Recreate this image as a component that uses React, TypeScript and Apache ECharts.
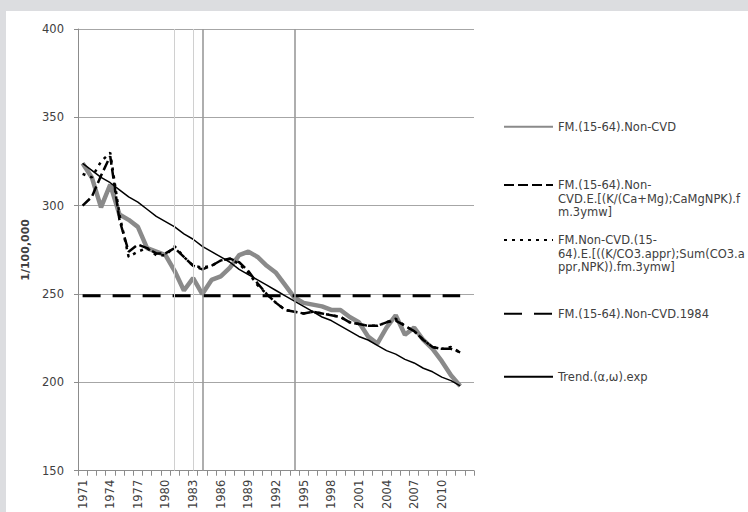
import React, { useEffect, useRef } from "react";
import * as echarts from "echarts";

const years = [
  "1971", "1972", "1973", "1974", "1975", "1976", "1977", "1978", "1979", "1980",
  "1981", "1982", "1983", "1984", "1985", "1986", "1987", "1988", "1989", "1990",
  "1991", "1992", "1993", "1994", "1995", "1996", "1997", "1998", "1999", "2000",
  "2001", "2002", "2003", "2004", "2005", "2006", "2007", "2008", "2009", "2010",
  "2011", "2012", "2013",
];

// FM.(15-64).Non-CVD
const fmNonCvd = [
  324, 316, 299, 312, 295, 292, 288, 276, 274, 272,
  263, 252, 259, 250, 258, 260, 265, 272, 274, 271,
  266, 262, 255, 248, 245, 244, 243, 241, 241, 237,
  234, 226, 222, 231, 238, 227, 231, 224, 219, 212,
  204, 198,
];

// FM.(15-64).Non-CVD.E.[(K/(Ca+Mg);CaMgNPK).fm.3ymw]
const fmCaMg = [
  300, 305, 317, 328, 292, 274, 278, 276, 273, 273,
  276, 271, 266, 264, 266, 269, 270, 268, 263, 256,
  250, 245, 241, 240, 239, 240, 239, 238, 237, 234,
  233, 232, 232, 234, 235, 232, 229, 224, 220, 219,
  219, 217,
];

// FM.Non-CVD.(15-64).E.[((K/CO3.appr);Sum(CO3.appr,NPK)).fm.3ymw]
const fmCo3 = [
  318, 316, 325, 330, 295, 271, 274, 276, 272, 272,
  277, 271, 266, 265, 266, 269, 270, 267, 262, 255,
  250, 245, 241, 240, 239, 240, 239, 238, 237, 234,
  233, 232, 232, 234, 236, 232, 229, 224, 220, 219,
  220, 217,
];

// FM.(15-64).Non-CVD.1984
const fm1984 = [
  249, 249, 249, 249, 249, 249, 249, 249, 249, 249,
  249, 249, 249, 249, 249, 249, 249, 249, 249, 249,
  249, 249, 249, 249, 249, 249, 249, 249, 249, 249,
  249, 249, 249, 249, 249, 249, 249, 249, 249, 249,
  249, 249,
];

// Trend.(α,ω).exp
const trendExp = [
  324, 320, 316, 313, 309, 305, 302, 298, 294, 291,
  288, 284, 281, 277, 274, 271, 268, 264, 261, 258,
  255, 252, 249, 246, 243, 240, 237, 235, 232, 229,
  226, 224, 221, 218, 216, 213, 211, 208, 206, 203,
  201, 198,
];

const yTicks = { min: 150, max: 400, interval: 50 };
const refYears = ["1981", "1983", "1984", "1994"];

const names = [
  "FM.(15-64).Non-CVD",
  "FM.(15-64).Non-CVD.E.[(K/(Ca+Mg);CaMgNPK).fm.3ymw]",
  "FM.Non-CVD.(15-64).E.[((K/CO3.appr);Sum(CO3.appr,NPK)).fm.3ymw]",
  "FM.(15-64).Non-CVD.1984",
  "Trend.(α,ω).exp",
];
const legendLines = [
  ["FM.(15-64).Non-CVD"],
  ["FM.(15-64).Non-", "CVD.E.[(K/(Ca+Mg);CaMgNPK).f", "m.3ymw]"],
  ["FM.Non-CVD.(15-", "64).E.[((K/CO3.appr);Sum(CO3.a", "ppr,NPK)).fm.3ymw]"],
  ["FM.(15-64).Non-CVD.1984"],
  ["Trend.(α,ω).exp"],
];
const legendY = [127, 185, 240, 314, 377];

const FONT = "'DejaVu Sans', sans-serif";
const TXT = "#404040";

export default function App() {
  const ref = useRef<HTMLDivElement>(null);
  useEffect(() => {
    if (!ref.current) return;
    const chart = echarts.init(ref.current, undefined, { renderer: "svg" });
    const LH = 13.5;
    const legends = names.map((n, i) => {
      const lines = legendLines[i];
      const multi = lines.length > 1;
      const label = multi ? "\n\n" + lines.join("\n") : lines[0];
      return {
        data: [n],
        left: 503,
        top: multi ? legendY[i] - 2.5 * LH : legendY[i] - 7,
        orient: "vertical",
        itemWidth: 49,
        itemHeight: 14,
        padding: 0,
        selectedMode: false,
        itemStyle: { opacity: 0 },
        formatter: () => label,
        textStyle: {
          fontFamily: FONT,
          fontSize: 11.5,
          color: TXT,
          lineHeight: LH,
        },
      };
    });
    chart.setOption({
      animation: false,
      backgroundColor: "#dcdde0",
      graphic: [
        {
          type: "rect",
          z: -10,
          shape: { x: 6, y: 11, width: 742, height: 501 },
          style: { fill: "#ffffff" },
          silent: true,
        },
      ],
      grid: { left: 78, right: 274, top: 29, bottom: 36, containLabel: false },
      legend: legends,
      xAxis: {
        type: "category",
        data: years,
        boundaryGap: true,
        axisLine: { show: true, lineStyle: { color: "#8c8c8c", width: 1 } },
        axisTick: { show: true, interval: 0, length: 5, lineStyle: { color: "#8c8c8c" } },
        axisLabel: {
          interval: (idx: number) => idx % 3 === 0 && idx < 42,
          rotate: 90,
          margin: 9,
          fontFamily: FONT,
          fontSize: 11.5,
          color: TXT,
        },
        splitLine: { show: false },
      },
      yAxis: {
        type: "value",
        min: yTicks.min,
        max: yTicks.max,
        interval: yTicks.interval,
        name: "1/100,000",
        nameLocation: "middle",
        nameGap: 47,
        nameRotate: 90,
        nameTextStyle: { fontFamily: FONT, fontSize: 11, fontWeight: "bold", color: TXT },
        axisLine: { show: true, lineStyle: { color: "#8c8c8c", width: 1 } },
        axisTick: { show: true, length: 4, lineStyle: { color: "#8c8c8c" } },
        axisLabel: { margin: 14, fontFamily: FONT, fontSize: 11.5, color: TXT },
        splitLine: { show: true, lineStyle: { color: "#a6a6a6", width: 1 } },
      },
      series: [
        {
          name: "refs",
          type: "line",
          data: [],
          z: 1,
          silent: true,
          markLine: {
            silent: true,
            symbol: "none",
            label: { show: false },
            data: refYears.map((y, i) => ({
              xAxis: y,
              lineStyle: {
                type: "solid",
                color: i < 2 ? "#d0d0d0" : "#9a9a9a",
                width: i < 2 ? 1 : 1.6,
              },
            })),
          },
        },
        {
          name: names[0],
          type: "line",
          data: fmNonCvd,
          symbol: "none",
          lineStyle: { color: "#8a8a8a", width: 4.5 },
          itemStyle: { color: "#8a8a8a" },
        },
        {
          name: names[1],
          type: "line",
          data: fmCaMg,
          symbol: "none",
          lineStyle: { color: "#000000", width: 2.5, type: [10, 4] },
          itemStyle: { color: "#000000" },
        },
        {
          name: names[2],
          type: "line",
          data: fmCo3,
          symbol: "none",
          lineStyle: { color: "#000000", width: 2.5, type: [3, 5] },
          itemStyle: { color: "#000000" },
        },
        {
          name: names[3],
          type: "line",
          data: fm1984,
          symbol: "none",
          lineStyle: { color: "#000000", width: 3, type: [18, 12] },
          itemStyle: { color: "#000000" },
        },
        {
          name: names[4],
          type: "line",
          data: trendExp,
          symbol: "none",
          lineStyle: { color: "#000000", width: 1.5 },
          itemStyle: { color: "#000000" },
        },
      ],
    });
    return () => chart.dispose();
  }, []);
  return (
    <div
      ref={ref}
      style={{ position: "fixed", left: 0, top: 0, width: 748, height: 512 }}
    />
  );
}
